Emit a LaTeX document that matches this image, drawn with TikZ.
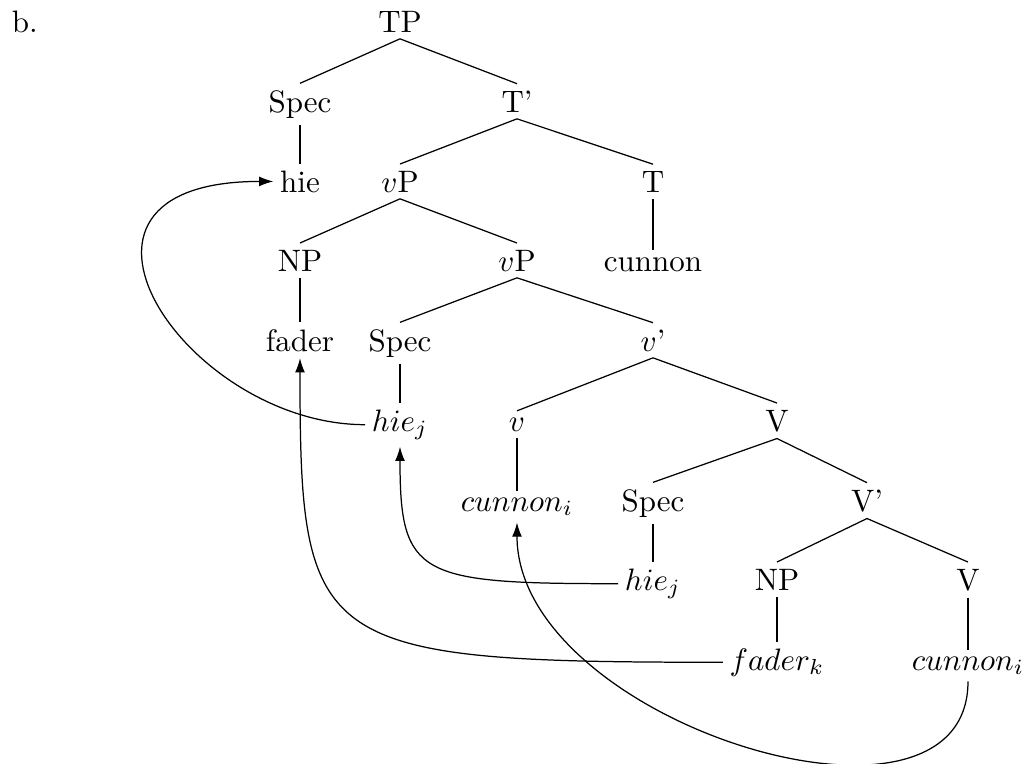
\documentclass[tikz,border=0pt]{standalone}
\usetikzlibrary{arrows.meta}
\begin{document}
\begin{tikzpicture}[x=0.3226pt,y=-0.3226pt,
  tn/.style={anchor=base,inner sep=2pt},
  br/.style={draw=black,line width=0.4pt},
  mv/.style={draw=black,line width=0.4pt,-{Latex[length=4.6pt,width=3.2pt]}}]
\useasboundingbox (0,0) rectangle (1022,763);
% label
\node[inner sep=2pt,anchor=base west] (lbl) at (5,32) {b.};
% tree nodes
\node[tn] (TP) at (400,32) {TP};
\node[tn] (Spec1) at (300,112) {Spec};
\node[tn] (Tbar) at (517,112) {T'};
\node[tn] (hie) at (300,192) {hie};
\node[tn] (vP1) at (400,192) {$v$P};
\node[tn] (T) at (653,192) {T};
\node[tn] (NP1) at (300,271) {NP};
\node[tn] (vP2) at (517,271) {$v$P};
\node[tn] (cunnon) at (653,271) {cunnon};
\node[tn] (fader) at (300,351) {fader};
\node[tn] (Spec2) at (400,351) {Spec};
\node[tn] (vbar) at (653,351) {$v$'};
\node[tn] (hiej1) at (400,431) {$hie_j$};
\node[tn] (v) at (517,431) {$v$};
\node[tn] (V1) at (777,431) {V};
\node[tn] (cunnoni1) at (517,511) {$cunnon_i$};
\node[tn] (Spec3) at (653,511) {Spec};
\node[tn] (Vbar) at (867,511) {V'};
\node[tn] (hiej2) at (653,590) {$hie_j$};
\node[tn] (NP2) at (777,590) {NP};
\node[tn] (V2) at (968,590) {V};
\node[tn] (faderk) at (777,670) {$fader_k$};
\node[tn] (cunnoni2) at (968,670) {$cunnon_i$};
% branches
\foreach \p/\c in {TP/Spec1,TP/Tbar,Spec1/hie,Tbar/vP1,Tbar/T,vP1/NP1,vP1/vP2,
  T/cunnon,NP1/fader,vP2/Spec2,vP2/vbar,Spec2/hiej1,vbar/v,vbar/V1,v/cunnoni1,
  V1/Spec3,V1/Vbar,Spec3/hiej2,Vbar/NP2,Vbar/V2,NP2/faderk,V2/cunnoni2}
  \draw[br] (\p.south) -- (\c.north);
% movement arrows
\draw[mv] (hiej1.west) .. controls +(-180,0) and +(-250,0) .. (hie.west);
\draw[mv] (faderk.west) .. controls +(-410,0) and +(0,290) .. (fader.south);
\draw[mv] (hiej2.west) .. controls +(-200,0) and +(0,130) .. (hiej1.south);
\draw[mv] (cunnoni2.south) .. controls +(0,180) and +(0,200) .. (cunnoni1.south);
\end{tikzpicture}
\end{document}
